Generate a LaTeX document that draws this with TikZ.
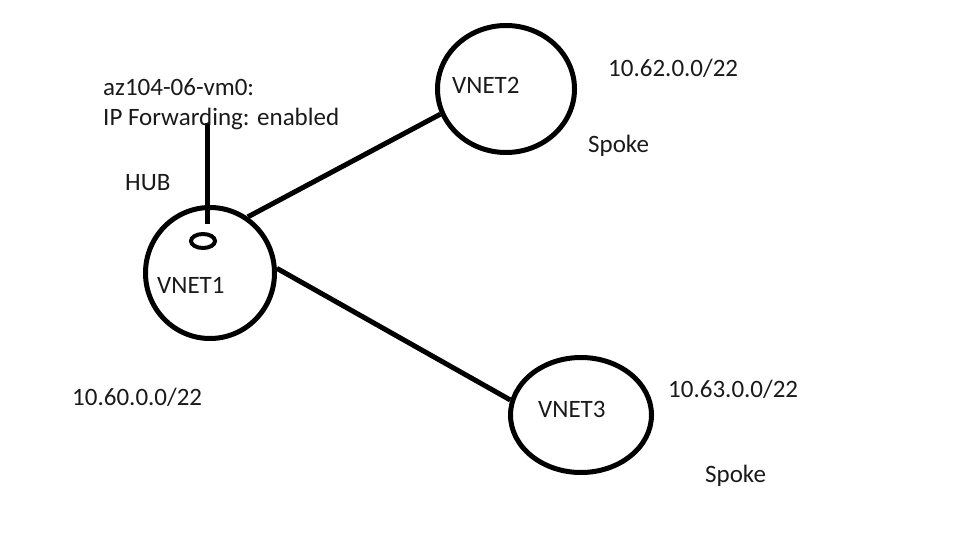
\documentclass[tikz,border=0pt]{standalone}
\usepackage{fontspec}
\setmainfont{Carlito}
\usetikzlibrary{shapes.geometric}
\definecolor{ink}{HTML}{1A1A1A}
\tikzset{
  vnet/.style={draw=black, line width=5pt, ellipse, inner sep=0pt},
  vm/.style={draw=black, line width=4pt, ellipse, inner sep=0pt, minimum width=24pt, minimum height=14pt},
  link/.style={draw=black, line width=5pt},
  lbl/.style={anchor=base west, inner sep=0pt, text=ink, font=\fontsize{25}{30}\selectfont}
}
\begin{document}
\begin{tikzpicture}[x=1pt,y=-1pt]
\useasboundingbox[fill=white] (0,0) rectangle (958,559);
% networks
\node[vnet, minimum width=129pt, minimum height=131pt] (v1) at (210,273) {};
\node[vnet, minimum width=137pt, minimum height=127pt] (v2) at (506,89) {};
\node[vnet, minimum width=141pt, minimum height=115pt] (v3) at (581,415) {};
\node[vm] (sm) at (203,241) {};
\coordinate (vmtop) at (207,123);
% connectors
\draw[link] (v1.56) -- (v2.201);
\draw[link] (v1.4) -- (v3.168);
\draw[link, shorten >=8pt] (vmtop) -- (sm.north -| vmtop);
% labels
\node[lbl] (t1) at (103,96) {az104-06-vm0:};
\node[lbl] (t2) at (103,125) {IP Forwarding: enabled};
\node[lbl] (hub) at (125,190) {HUB};
\node[lbl] (n1) at (157,293) {VNET1};
\node[lbl] (n2) at (452,94) {VNET2};
\node[lbl] (n3) at (538,417) {VNET3};
\node[lbl] (a2) at (608,77) {10.62.0.0/22};
\node[lbl] (s2) at (588,153) {Spoke};
\node[lbl] (a3) at (668,397) {10.63.0.0/22};
\node[lbl] (s3) at (705,482) {Spoke};
\node[lbl] (a1) at (72,405) {10.60.0.0/22};
\end{tikzpicture}
\end{document}
